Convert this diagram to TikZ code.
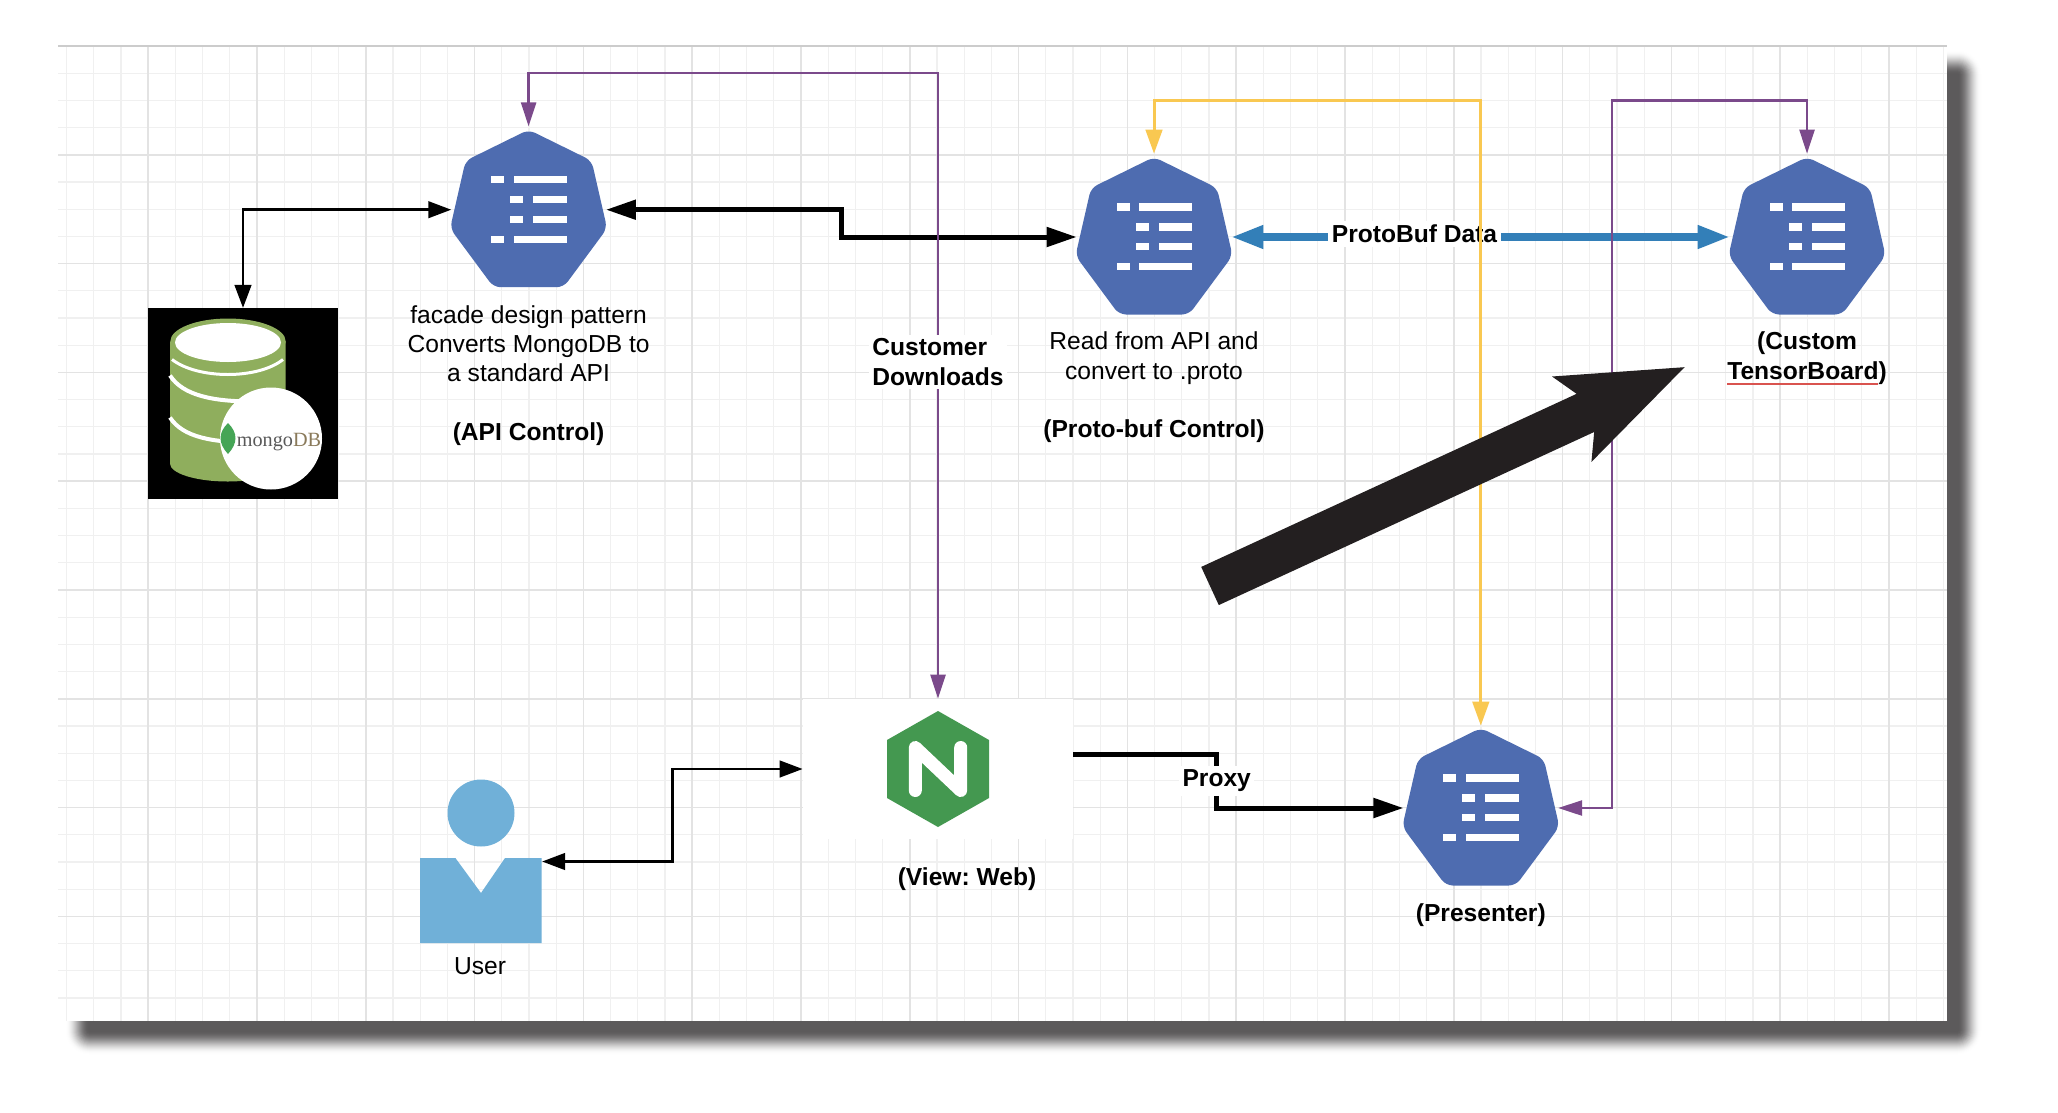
\documentclass[tikz,border=0pt]{standalone}
\usepackage{fontspec}
\setmainfont{Liberation Sans}
\newfontfamily\logofont{Liberation Serif}
\usetikzlibrary{arrows.meta, calc, shapes.geometric}

\definecolor{kubeblue}{HTML}{4E6CB0}
\definecolor{nginxgreen}{HTML}{449850}
\definecolor{userblue}{HTML}{70B0D8}
\definecolor{flowpurple}{HTML}{7B4A8B}
\definecolor{flowyellow}{HTML}{F9C851}
\definecolor{flowblue}{HTML}{337FB8}
\definecolor{shadowgrey}{HTML}{5C5A5B}
\definecolor{mongogreen}{HTML}{8FAE5D}
\definecolor{leafgreen}{HTML}{45A556}
\definecolor{mongotan}{HTML}{8A7A5A}
\definecolor{spellred}{HTML}{D9534F}
\definecolor{bigblack}{HTML}{231F20}

% one service icon: blue heptagon with its four rows of bars
\newcommand{\kubeicon}[2]{%
    \node[kube] (#1) at (#2) {};
    \begin{scope}[shift={(#1)}]
        \fill[kubeblue, rounded corners=0.14cm] (0,-80) -- (63,-49) -- (78.5,18.7) -- (35,77.5) -- (-35,77.5) -- (-78.5,18.7) -- (-63,-49) -- cycle;
        \foreach \y in {-30,29.5} {
            \fill[white] (-37.5,\y-3.7) rectangle (-24.5,\y+3.7);
            \fill[white] (-15,\y-3.7) rectangle (38,\y+3.7);
        }
        \foreach \y in {-10,9.7} {
            \fill[white] (-18.4,\y-3.7) rectangle (-5.4,\y+3.7);
            \fill[white] (4.6,\y-3.7) rectangle (38,\y+3.7);
        }
    \end{scope}
}

\begin{document}
\frenchspacing
\begin{tikzpicture}[
    x=0.02cm, y=-0.02cm,
    font=\fontsize{14}{16.7}\selectfont,
    kube/.style={minimum width=3.08cm, minimum height=3.08cm, inner sep=0pt},
    caption/.style={align=center},
    boldcaption/.style={align=center, font=\fontsize{14}{16.7}\selectfont\bfseries},
    tag/.style={fill=white, inner sep=2pt, font=\fontsize{14}{16.7}\selectfont\bfseries},
    thinflow/.style={draw=black, line width=0.055cm, >={Triangle[length=0.46cm,width=0.33cm]}},
    thickflow/.style={draw=black, line width=0.1cm, >={Triangle[length=0.6cm,width=0.38cm]}},
    purpleflow/.style={draw=flowpurple, line width=0.05cm, >={Triangle[length=0.48cm,width=0.3cm]}},
    yellowflow/.style={draw=flowyellow, line width=0.06cm, >={Triangle[length=0.48cm,width=0.33cm]}},
    blueflow/.style={draw=flowblue, line width=0.145cm, >={Triangle[length=0.64cm,width=0.44cm]}}
]
    \useasboundingbox (0,0) rectangle (2058,1112);

    % card, its shadow and the grid
    \foreach \d in {12,11,...,-12} {
        \pgfmathsetmacro{\tone}{50-50*cos(180*(12-\d)/24)}
        \pgfmathsetmacro{\corner}{(\d+13)*0.5669}
        \fill[shadowgrey!\tone!white, rounded corners=\corner pt] (77-\d,62-\d) rectangle (1970+\d,1043+\d);
    }
    \fill[white] (58,46) rectangle (1947,1021);
    \foreach \x in {66.6,93.8,...,1947} \draw[black!6, line width=0.025cm] (\x,46) -- (\x,1021);
    \foreach \y in {73.2,100.4,...,1021} \draw[black!6, line width=0.025cm] (58,\y) -- (1947,\y);
    \foreach \x in {148.2,257,...,1947} \draw[black!11, line width=0.035cm] (\x,46) -- (\x,1021);
    \foreach \y in {154.8,263.6,...,1021} \draw[black!11, line width=0.035cm] (58,\y) -- (1947,\y);
    \draw[black!20, line width=0.04cm] (58,46) -- (1947,46);

    % services
    \kubeicon{api}{528.6,209.7}
    \kubeicon{proto}{1154,237}
    \kubeicon{tb}{1807,237}
    \kubeicon{pres}{1480.8,808}

    % mongo logo
    \node[fill=black, minimum size=3.81cm, inner sep=0pt] (mongo) at (243,403.5) {};
    \begin{scope}[shift={(mongo)}]
        \fill[mongogreen] (-73,-62) rectangle (42.5,60) arc[start angle=0, end angle=180, x radius=57.75, y radius=18] -- cycle;
        \fill[mongogreen] (-15,-62) ellipse[x radius=57.75, y radius=23];
        \fill[white] (-15,-61) ellipse[x radius=53, y radius=19.5];
        \draw[white, line width=0.06cm] (-71,-44) .. controls (-45,-24) and (15,-24) .. (40,-44);
        \draw[white, line width=0.08cm] (-73,-28) .. controls (-60,-8) and (-30,-2) .. (10,-2);
        \draw[white, line width=0.08cm] (-73,14) .. controls (-60,34) and (-30,39) .. (10,39);
        \fill[white] (28,35) circle[radius=51];
    \end{scope}
    \node[inner sep=0pt, font=\logofont\fontsize{11.5}{12}\selectfont, text=black!65] (mongolabel) at (279,442) {mongo\textcolor{mongotan}{DB}};
    \fill[leafgreen] (228,423) .. controls (238,433) and (238,443) .. (228,454) .. controls (218,443) and (218,433) .. (228,423) -- cycle;

    % nginx
    \node[fill=white, minimum width=5.4cm, minimum height=2.8cm, inner sep=0pt] (nginx) at (938,769) {};
    \begin{scope}[shift={(nginx)}]
        \fill[nginxgreen] (0,-58) -- (51,-29) -- (51,29) -- (0,58) -- (-51,29) -- (-51,-29) -- cycle;
        \draw[white, line width=0.26cm, line join=round, line cap=round] (-22.7,21.5) -- (-22.7,-21.5) -- (22.7,21.5) -- (22.7,-21.5);
    \end{scope}

    % user
    \node[minimum width=2.43cm, minimum height=3.26cm, inner sep=0pt] (user) at (481,861.5) {};
    \begin{scope}[shift={(user)}]
        \fill[userblue] (0,-48.5) circle[radius=33.5];
        \fill[userblue] (-61,-3.5) -- (-25.6,-3.5) -- (0,31.5) -- (24,-3.5) -- (60.5,-3.5) -- (60.5,81.5) -- (-61,81.5) -- cycle;
    \end{scope}

    % labels
    \node[caption] (apilabel) at (528.6,375.5) {facade design pattern\\Converts MongoDB to\\a standard API\\ \\\textbf{(API Control)}};
    \node[caption] (protolabel) at (1154,387.5) {Read from API and\\convert to .proto\\ \\\textbf{(Proto-buf Control)}};
    \node[boldcaption] (tblabel) at (1807,358.3) {(Custom\\TensorBoard)};
    \node[boldcaption] (weblabel) at (967,879.6) {(View: Web)};
    \node[boldcaption] (preslabel) at (1480.8,915) {(Presenter)};
    \node[caption] (userlabel) at (480,966) {User};
    \draw[spellred, line width=0.04cm] ([xshift=0.12cm,yshift=0.14cm]tblabel.south west) -- ([xshift=-0.3cm,yshift=0.14cm]tblabel.south east);

    \node[tag, align=left] (downloads) at (938,362) {Customer\\Downloads};
    \node[tag] (protobuf) at (1414.5,234) {ProtoBuf Data};
    \node[tag] (proxy) at (1216.7,781) {Proxy};

    % connectors
    \draw[thinflow, <->] (mongo.north) |- (api.west);
    \draw[thickflow, <->] (api.east) -| ($(api.east)!0.5!(proto.west)$) |- (proto.west);
    \draw[purpleflow, ->, shorten >=0.12cm] (downloads.north) |- ([yshift=1.19cm]api.north) -- (api.north);
    \draw[purpleflow, ->] (downloads.south) -- (nginx.north);
    \draw[yellowflow, <->, shorten >=0.12cm, shorten <=0.1cm] (pres.north) |- ([yshift=1.18cm]proto.north) -- (proto.north);
    \draw[blueflow, ->] (protobuf.west |- proto.east) -- (proto.east);
    \draw[blueflow, ->] (protobuf.east |- proto.east) -- (tb.west);
    \draw[purpleflow, <->, shorten >=0.12cm] (pres.east) -- ++(54,0) |- ([yshift=1.18cm]tb.north) -- (tb.north);
    \draw[thinflow, <->] (user.east) -| ($(user.east)!0.5!(nginx.west)$) |- (nginx.west);
    \draw[thickflow] ([yshift=0.3cm]nginx.east) -| (proxy.north);
    \draw[thickflow, ->] (proxy.south) |- (pres.west);

    % big arrow
    \coordinate (bigtail) at (1210,586);
    \coordinate (bigtip) at (1685.6,366.7);
    \draw[draw=bigblack, line width=0.84cm, -{Stealth[length=2.44cm,width=1.78cm,inset=0.48cm]}] (bigtail) -- (bigtip);
\end{tikzpicture}
\end{document}
